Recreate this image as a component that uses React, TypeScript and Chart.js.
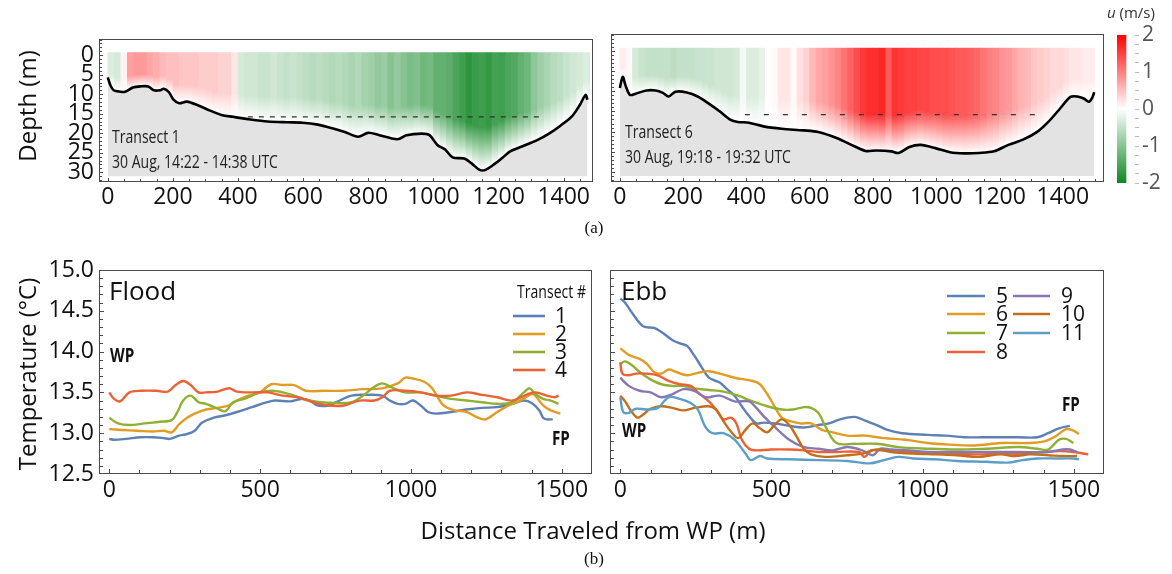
import React, { useEffect, useRef } from 'react';
import { Chart, registerables } from 'chart.js';
Chart.register(...registerables);

const FONT = '"Open Sans", "Noto Sans", sans-serif';

// ---------- (a) velocity sections ----------
const t1BedX = [0, 8, 18, 35, 53, 77, 100, 124, 142, 160, 172, 188, 201, 219, 243, 278, 314, 349, 385, 432, 491, 550, 598, 645, 692, 728, 769, 799, 834, 870, 893, 917, 964, 988, 1012, 1036, 1059, 1095, 1118, 1142, 1160, 1189, 1213, 1237, 1272, 1320, 1355, 1391, 1426, 1450, 1467, 1473];
const t1BedDepth = [5.7, 7.7, 9.0, 9.3, 9.4, 8.3, 8.0, 8.0, 9.0, 9.0, 8.6, 9.5, 11.3, 12.3, 11.9, 12.9, 14.2, 15.3, 15.8, 16.4, 17.0, 17.2, 17.3, 17.8, 18.8, 19.7, 20.9, 19.9, 20.5, 21.3, 21.5, 20.5, 20.1, 20.5, 23.0, 24.2, 26.2, 26.5, 27.8, 29.4, 29.4, 27.8, 26.2, 24.6, 23.4, 21.7, 20.1, 18.0, 15.6, 12.7, 10.2, 11.4];
const t1ColX = [10, 30, 50, 70, 90, 110, 130, 150, 170, 190, 210, 230, 250, 270, 290, 310, 330, 350, 370, 390, 410, 430, 450, 470, 490, 510, 530, 550, 570, 590, 610, 630, 650, 670, 690, 710, 730, 750, 770, 790, 810, 830, 850, 870, 890, 910, 930, 950, 970, 990, 1010, 1030, 1050, 1070, 1090, 1110, 1130, 1150, 1170, 1190, 1210, 1230, 1250, 1270, 1290, 1310, 1330, 1350, 1370, 1390, 1410, 1430, 1450, 1470];
const t1ColU = [-0.3, -0.35, 0.1, 0.75, 0.8, 0.8, 0.7, 0.65, 0.55, 0.5,
  0.5, 0.45, 0.45, 0.45, 0.4, 0.4, 0.4, 0.35, 0.35, 0.2,
  -0.35, -0.4, -0.4, -0.45, -0.45, -0.4, -0.45, -0.5, -0.45, -0.5,
  -0.55, -0.6, -0.55, -0.6, -0.65, -0.6, -0.65, -0.7, -0.65, -0.75,
  -0.8, -0.9, -0.85, -1.0, -0.9, -1.0, -1.1, -1.05, -1.2, -1.15,
  -1.3, -1.3, -1.35, -1.5, -1.6, -1.75, -1.65, -1.6, -1.7, -1.55,
  -1.6, -1.5, -1.45, -1.3, -1.2, -0.95, -0.8, -0.7, -0.6, -0.55,
  -0.45, -0.4, -0.35, -0.3];

const t6BedX = [0, 9, 18, 32, 50, 84, 113, 136, 154, 176, 212, 246, 280, 316, 350, 373, 408, 454, 512, 581, 627, 685, 743, 777, 810, 858, 881, 915, 951, 997, 1043, 1089, 1135, 1182, 1228, 1274, 1320, 1354, 1390, 1424, 1446, 1466, 1482, 1494, 1499];
const t6BedDepth = [9.2, 6.4, 8.6, 10.9, 10.6, 9.8, 9.8, 10.4, 11.3, 10.1, 10.3, 11.3, 13.0, 15.0, 17.1, 17.6, 17.8, 18.7, 19.3, 19.7, 20.1, 21.6, 23.7, 24.8, 24.7, 24.9, 25.3, 23.8, 23.3, 24.1, 25.1, 25.4, 25.3, 24.9, 23.3, 22.0, 20.0, 17.6, 14.4, 11.4, 11.3, 11.8, 12.6, 11.4, 10.2];
const t6ColX = [10, 30, 50, 70, 90, 110, 130, 150, 170, 190, 210, 230, 250, 270, 290, 310, 330, 350, 370, 390, 410, 430, 450, 470, 490, 510, 530, 550, 570, 590, 610, 630, 650, 670, 690, 710, 730, 750, 770, 790, 810, 830, 850, 870, 890, 910, 930, 950, 970, 990, 1010, 1030, 1050, 1070, 1090, 1110, 1130, 1150, 1170, 1190, 1210, 1230, 1250, 1270, 1290, 1310, 1330, 1350, 1370, 1390, 1410, 1430, 1450, 1470, 1490];
const t6ColU = [0.15, 0.05, -0.35, -0.45, -0.5, -0.5, -0.5, -0.5, -0.55, -0.5,
  -0.5, -0.5, -0.45, -0.45, -0.45, -0.4, -0.4, -0.4, -0.35, -0.1,
  -0.3, -0.3, -0.2, 0.0, 0.05, 0.2, 0.2, 0.05, 0.25, 0.35,
  0.55, 0.7, 0.75, 0.85, 0.95, 1.1, 1.25, 1.4, 1.55, 1.65,
  1.65, 1.7, 1.3, 1.6, 1.55, 1.5, 1.5, 1.45, 1.45, 1.4,
  1.4, 1.4, 1.35, 1.3, 1.3, 1.25, 1.2, 1.1, 1.0, 0.95,
  0.85, 0.8, 0.7, 0.6, 0.55, 0.45, 0.4, 0.35, 0.3, 0.3,
  0.25, 0.2, 0.2, 0.15, 0.15];

const depthTicks = [0, 5, 10, 15, 20, 25, 30];
const sectionXTicks = [0, 200, 400, 600, 800, 1000, 1200, 1400];
const colorbarTicks = [-2, -1, 0, 1, 2];

// ---------- (b) temperature ----------
const floodLabels = ['1', '2', '3', '4'];
const ebbLabels = ['5', '6', '7', '8', '9', '10', '11'];

const f1X = [0, 16, 55, 105, 143, 181, 200, 232, 258, 283, 308, 346, 385, 423, 473, 524, 550, 600, 638, 665, 689, 727, 752, 803, 855, 905, 930, 956, 981, 1006, 1032, 1057, 1082, 1133, 1184, 1235, 1286, 1336, 1374, 1400, 1425, 1438, 1450, 1470];
const f1T = [12.93, 12.92, 12.93, 12.95, 12.95, 12.94, 12.93, 12.97, 12.99, 13.03, 13.13, 13.19, 13.22, 13.26, 13.32, 13.38, 13.40, 13.39, 13.42, 13.40, 13.34, 13.34, 13.38, 13.46, 13.47, 13.46, 13.40, 13.36, 13.36, 13.40, 13.34, 13.26, 13.24, 13.26, 13.29, 13.31, 13.32, 13.36, 13.40, 13.37, 13.28, 13.19, 13.17, 13.17];
const f2X = [0, 42, 93, 143, 181, 207, 232, 258, 283, 321, 359, 397, 423, 461, 499, 537, 575, 613, 651, 714, 778, 841, 905, 956, 981, 1006, 1044, 1070, 1108, 1146, 1184, 1222, 1247, 1286, 1324, 1362, 1400, 1412, 1438, 1463, 1495];
const f2T = [13.05, 13.04, 13.03, 13.02, 13.03, 13.01, 13.11, 13.19, 13.24, 13.29, 13.31, 13.34, 13.40, 13.46, 13.50, 13.60, 13.59, 13.59, 13.52, 13.52, 13.52, 13.54, 13.55, 13.61, 13.68, 13.67, 13.63, 13.55, 13.34, 13.28, 13.26, 13.19, 13.17, 13.26, 13.34, 13.40, 13.48, 13.46, 13.34, 13.28, 13.24];
const f3X = [0, 29, 67, 118, 169, 207, 226, 245, 270, 296, 321, 359, 385, 410, 448, 499, 537, 575, 613, 651, 702, 752, 803, 841, 879, 905, 943, 981, 1032, 1082, 1133, 1184, 1235, 1286, 1336, 1374, 1393, 1412, 1438, 1463, 1489];
const f3T = [13.19, 13.12, 13.10, 13.12, 13.14, 13.16, 13.26, 13.40, 13.46, 13.38, 13.36, 13.30, 13.27, 13.38, 13.42, 13.50, 13.52, 13.50, 13.46, 13.41, 13.38, 13.37, 13.38, 13.46, 13.57, 13.61, 13.55, 13.50, 13.50, 13.46, 13.42, 13.40, 13.38, 13.36, 13.38, 13.50, 13.55, 13.48, 13.42, 13.40, 13.36];
const f4X = [0, 16, 36, 67, 105, 156, 194, 220, 245, 270, 296, 321, 359, 397, 423, 473, 524, 575, 626, 676, 727, 778, 829, 879, 905, 930, 981, 1032, 1082, 1133, 1184, 1235, 1286, 1336, 1387, 1412, 1450, 1476, 1489];
const f4T = [13.50, 13.42, 13.39, 13.50, 13.52, 13.52, 13.51, 13.59, 13.64, 13.59, 13.50, 13.50, 13.51, 13.55, 13.51, 13.50, 13.50, 13.46, 13.44, 13.38, 13.34, 13.34, 13.40, 13.40, 13.44, 13.52, 13.52, 13.50, 13.46, 13.46, 13.50, 13.47, 13.44, 13.40, 13.48, 13.50, 13.46, 13.44, 13.46];

const e5X = [0, 16, 40, 76, 112, 136, 173, 197, 221, 245, 269, 293, 329, 353, 378, 402, 426, 450, 474, 510, 559, 607, 655, 691, 727, 776, 812, 848, 884, 932, 1017, 1077, 1138, 1198, 1258, 1318, 1379, 1415, 1451, 1487];
const e5T = [14.65, 14.60, 14.47, 14.31, 14.29, 14.24, 14.14, 14.10, 14.07, 13.95, 13.81, 13.68, 13.62, 13.54, 13.46, 13.33, 13.21, 13.12, 13.13, 13.12, 13.09, 13.07, 13.10, 13.12, 13.17, 13.20, 13.15, 13.10, 13.04, 13.00, 12.98, 12.97, 12.95, 12.95, 12.95, 12.95, 12.95, 13.00, 13.06, 13.09];
const e6X = [0, 28, 64, 88, 112, 136, 160, 185, 221, 257, 293, 329, 378, 438, 462, 486, 510, 534, 559, 595, 631, 667, 703, 751, 812, 872, 944, 1017, 1089, 1173, 1258, 1354, 1403, 1439, 1475, 1499, 1517];
const e6T = [14.04, 13.96, 13.91, 13.85, 13.75, 13.73, 13.78, 13.75, 13.71, 13.74, 13.76, 13.73, 13.68, 13.64, 13.60, 13.48, 13.33, 13.19, 13.15, 13.12, 13.12, 13.04, 13.01, 12.97, 12.97, 12.94, 12.92, 12.88, 12.86, 12.85, 12.88, 12.88, 12.90, 12.96, 13.05, 13.03, 12.99];
const e7X = [0, 16, 40, 64, 100, 136, 173, 209, 245, 293, 341, 390, 438, 486, 534, 571, 607, 631, 655, 679, 715, 776, 848, 920, 1017, 1113, 1210, 1318, 1379, 1415, 1451, 1475, 1499];
const e7T = [13.85, 13.88, 13.83, 13.75, 13.66, 13.60, 13.58, 13.58, 13.55, 13.53, 13.51, 13.46, 13.39, 13.33, 13.29, 13.29, 13.32, 13.31, 13.25, 13.08, 12.88, 12.87, 12.87, 12.83, 12.81, 12.80, 12.81, 12.83, 12.81, 12.80, 12.92, 12.93, 12.88];
const e8X = [0, 7, 28, 52, 88, 124, 160, 197, 233, 257, 293, 317, 341, 366, 384, 402, 426, 450, 498, 559, 607, 655, 715, 790, 808, 830, 848, 896, 969, 1041, 1113, 1186, 1258, 1330, 1403, 1451, 1499, 1548];
const e8T = [13.87, 13.73, 13.71, 13.73, 13.73, 13.71, 13.64, 13.60, 13.58, 13.50, 13.39, 13.29, 13.17, 13.19, 13.12, 12.92, 12.81, 12.79, 12.80, 12.80, 12.79, 12.77, 12.77, 12.77, 12.71, 12.79, 12.79, 12.79, 12.77, 12.76, 12.75, 12.74, 12.75, 12.75, 12.77, 12.78, 12.77, 12.74];
const e9X = [0, 28, 64, 100, 136, 173, 209, 245, 281, 329, 378, 426, 450, 474, 510, 559, 607, 655, 703, 751, 800, 836, 860, 896, 957, 1017, 1113, 1198, 1318, 1415, 1463, 1487, 1511];
const e9T = [13.68, 13.58, 13.52, 13.50, 13.44, 13.48, 13.54, 13.52, 13.44, 13.46, 13.39, 13.39, 13.31, 13.21, 13.08, 12.92, 12.83, 12.81, 12.79, 12.83, 12.79, 12.73, 12.81, 12.80, 12.79, 12.77, 12.77, 12.77, 12.77, 12.77, 12.80, 12.80, 12.77];
const e10X = [0, 16, 40, 58, 76, 100, 136, 173, 209, 245, 293, 317, 341, 366, 390, 414, 438, 462, 486, 510, 534, 559, 583, 607, 631, 679, 751, 800, 848, 896, 969, 1041, 1113, 1186, 1258, 1306, 1354, 1415, 1463, 1511];
const e10T = [13.46, 13.39, 13.25, 13.19, 13.23, 13.30, 13.33, 13.31, 13.28, 13.31, 13.33, 13.29, 13.15, 13.02, 12.94, 13.04, 13.12, 13.06, 13.01, 13.10, 13.17, 13.10, 12.96, 12.81, 12.74, 12.71, 12.73, 12.75, 12.80, 12.77, 12.75, 12.74, 12.73, 12.71, 12.74, 12.72, 12.74, 12.73, 12.72, 12.72];
const e11X = [0, 10, 28, 52, 88, 124, 160, 197, 233, 257, 281, 305, 341, 378, 414, 432, 462, 486, 559, 655, 751, 824, 872, 920, 969, 1041, 1113, 1210, 1282, 1330, 1379, 1439, 1499, 1517];
const e11T = [13.44, 13.26, 13.25, 13.30, 13.29, 13.31, 13.44, 13.42, 13.37, 13.29, 13.08, 13.00, 13.00, 12.92, 12.75, 12.67, 12.72, 12.69, 12.68, 12.67, 12.66, 12.63, 12.67, 12.71, 12.69, 12.68, 12.66, 12.65, 12.64, 12.67, 12.69, 12.69, 12.69, 12.68];

const C = ['#5E81B5', '#E19C24', '#8FB032', '#EB6235', '#8778B3', '#C56E1A', '#5D9EC7'];

// ---------- helpers ----------
function uColor(u: number) {
  const t = Math.min(Math.abs(u) / 2, 1);
  if (u >= 0) {
    const g = Math.round(255 * (1 - t));
    return `rgb(255,${g},${g})`;
  }
  return `rgb(${Math.round(255 - 240 * t)},${Math.round(255 - 120 * t)},${Math.round(255 - 220 * t)})`;
}
function bedAt(xs: number[], ds: number[], x: number) {
  if (x <= xs[0]) return ds[0];
  for (let i = 1; i < xs.length; i++) {
    if (x <= xs[i]) {
      const f = (x - xs[i - 1]) / (xs[i] - xs[i - 1]);
      return ds[i - 1] + f * (ds[i] - ds[i - 1]);
    }
  }
  return ds[ds.length - 1];
}

function framePlugin(cfg: { xMaj: number; xMin: number; yMaj: number; yMin: number }) {
  return {
    id: 'frameTicks',
    afterDraw(chart: any) {
      const { ctx, chartArea: a } = chart;
      const xs = chart.scales.x, ys = chart.scales.y;
      ctx.save();
      ctx.strokeStyle = '#4a4a4a';
      ctx.lineWidth = 1;
      ctx.beginPath();
      xs.ticks.forEach((t: any) => {
        const p = Math.round(xs.getPixelForValue(t.value)) + 0.5;
        if (p < a.left || p > a.right) return;
        const len = t.label !== '' ? cfg.xMaj : cfg.xMin;
        ctx.moveTo(p, a.bottom);
        ctx.lineTo(p, a.bottom - len);
      });
      ys.ticks.forEach((t: any) => {
        const p = Math.round(ys.getPixelForValue(t.value)) + 0.5;
        if (p < a.top || p > a.bottom) return;
        const len = t.label !== '' ? cfg.yMaj : cfg.yMin;
        ctx.moveTo(a.left, p);
        ctx.lineTo(a.left + len, p);
      });
      ctx.stroke();
      ctx.strokeRect(Math.round(a.left) + 0.5, Math.round(a.top) + 0.5, Math.round(a.right - a.left) - 1, Math.round(a.bottom - a.top) - 1);
      ctx.restore();
    },
  };
}

type Note = { text: string; dx: number; dy: number; font: string; align?: string; color?: string; sx?: number };
function notesPlugin(items: Note[]) {
  return {
    id: 'notes',
    afterDatasetsDraw(chart: any) {
      const { ctx, chartArea: a } = chart;
      items.forEach((it) => {
        ctx.save();
        ctx.textBaseline = 'middle';
        ctx.font = it.font;
        ctx.fillStyle = it.color || '#111';
        ctx.textAlign = (it.align || 'left') as CanvasTextAlign;
        ctx.translate(a.left + it.dx, a.top + it.dy);
        ctx.scale(it.sx || 1, 1);
        ctx.fillText(it.text, 0, 0);
        ctx.restore();
      });
    },
  };
}

type LegendEntry = { x0: number; x1: number; tx: number; y: number };
function legendPlugin(entries: LegendEntry[]) {
  return {
    id: 'customLegend',
    afterDatasetsDraw(chart: any) {
      const { ctx, chartArea: a } = chart;
      ctx.save();
      ctx.textBaseline = 'middle';
      ctx.textAlign = 'left';
      ctx.font = `21px ${FONT}`;
      chart.data.datasets.forEach((ds: any, i: number) => {
        const e = entries[i];
        if (!e) return;
        ctx.strokeStyle = ds.borderColor;
        ctx.lineWidth = 2.6;
        ctx.beginPath();
        ctx.moveTo(a.left + e.x0, a.top + e.y);
        ctx.lineTo(a.left + e.x1, a.top + e.y);
        ctx.stroke();
        ctx.fillStyle = '#111';
        ctx.fillText(ds.label, a.left + e.tx, a.top + e.y + 1);
      });
      ctx.restore();
    },
  };
}

const TICK_FONT = { family: FONT, size: 23 };

function sectionConfig(p: any) {
  const bed = p.bedX.map((x: number, i: number) => ({ x, y: p.bedD[i] }));
  const cols = p.colX.map((x: number, i: number) => ({ x, y: [-0.7, bedAt(p.bedX, p.bedD, x)], u: p.colU[i] }));
  return {
    type: 'bar',
    data: {
      datasets: [
        { type: 'line', data: bed, borderColor: '#000', borderWidth: 2.6, pointRadius: 0, tension: 0.3, fill: { value: 31 }, backgroundColor: '#e3e3e3', order: 0 },
        { type: 'line', data: [{ x: p.dashX[0], y: p.dashDepth }, { x: p.dashX[1], y: p.dashDepth }], borderColor: '#333', borderWidth: 1.2, borderDash: p.dash, pointRadius: 0, fill: false, order: 1 },
        {
          type: 'bar', data: cols, order: 2, barPercentage: 1, categoryPercentage: 1, borderWidth: 0,
          backgroundColor: (ctx: any) => {
            const raw = ctx.raw;
            if (!raw || raw.u === undefined) return '#fff';
            const c = uColor(raw.u);
            const ys = ctx.chart.scales.y;
            if (!ys) return c;
            const top = ys.getPixelForValue(raw.y[0]);
            const bot = ys.getPixelForValue(raw.y[1]);
            if (!isFinite(top) || !isFinite(bot) || bot <= top) return c;
            const g = ctx.chart.ctx.createLinearGradient(0, top, 0, bot);
            g.addColorStop(0, c);
            g.addColorStop(0.64, c);
            g.addColorStop(1, 'rgb(255,255,255)');
            return g;
          },
        },
      ],
    },
    options: {
      animation: false, responsive: false, devicePixelRatio: 1,
      layout: { padding: { top: 14, right: p.padRight, left: 0, bottom: 0 } },
      plugins: { legend: { display: false }, tooltip: { enabled: false } },
      scales: {
        x: {
          type: 'linear', min: p.xMin, max: p.xMax, offset: false,
          grid: { display: false, drawTicks: false }, border: { display: false },
          ticks: { stepSize: 50, includeBounds: false, autoSkip: false, maxRotation: 0, minRotation: 0, padding: 2, color: '#111', font: TICK_FONT,
            callback: (v: number) => (sectionXTicks.includes(Math.round(v)) ? String(Math.round(v)) : '') },
          afterFit: (s: any) => { s.height = 38; },
        },
        y: {
          type: 'linear', reverse: true, min: -4.2, max: 32.5,
          grid: { display: false, drawTicks: false }, border: { display: false },
          ticks: { display: p.showY, stepSize: 1, includeBounds: false, autoSkip: false, padding: 5, color: '#111', font: TICK_FONT,
            callback: (v: number) => (depthTicks.includes(Math.round(v)) && Math.abs(v - Math.round(v)) < 1e-6 ? String(Math.round(v)) : '') },
          afterFit: (s: any) => { s.width = p.yWidth; },
        },
      },
    },
    plugins: [framePlugin({ xMaj: 4, xMin: 3, yMaj: 4, yMin: 3 }), notesPlugin(p.notes)],
  };
}

function tempConfig(p: any) {
  const datasets = p.series.map((s: any, i: number) => ({
    label: s.label,
    data: s.x.map((x: number, j: number) => ({ x, y: s.t[j] })),
    borderColor: s.color, borderWidth: 2.4, pointRadius: 0, tension: 0.35, fill: false,
    order: 20 - i,
  }));
  return {
    type: 'line',
    data: { datasets },
    options: {
      animation: false, responsive: false, devicePixelRatio: 1,
      layout: { padding: { top: 30, right: p.padRight, left: 0, bottom: 0 } },
      plugins: { legend: { display: false }, tooltip: { enabled: false } },
      scales: {
        x: {
          type: 'linear', min: -34, max: 1600,
          grid: { display: false, drawTicks: false }, border: { display: false },
          ticks: { stepSize: 100, includeBounds: false, autoSkip: false, maxRotation: 0, minRotation: 0, padding: 3, color: '#111', font: TICK_FONT,
            callback: (v: number) => (Math.round(v) % 500 === 0 ? String(Math.round(v)) : '') },
          afterFit: (s: any) => { s.height = 46; },
        },
        y: {
          type: 'linear', min: 12.5, max: 15.0,
          grid: { display: false, drawTicks: false }, border: { display: false },
          ticks: { display: p.showY, stepSize: 0.1, includeBounds: false, autoSkip: false, padding: 5, color: '#111', font: TICK_FONT,
            callback: (v: number) => (Math.round(v * 10) % 5 === 0 ? v.toFixed(1) : '') },
          afterFit: (s: any) => { s.width = p.yWidth; },
        },
      },
    },
    plugins: [framePlugin({ xMaj: 5, xMin: 4, yMaj: 5, yMin: 4 }), notesPlugin(p.notes), legendPlugin(p.legend)],
  };
}

function colorbarConfig() {
  return {
    type: 'bar',
    data: {
      labels: ['u'],
      datasets: [{
        data: [[-2, 2]], barPercentage: 1, categoryPercentage: 1, borderWidth: 0,
        backgroundColor: (ctx: any) => {
          const a = ctx.chart.chartArea;
          if (!a) return '#fff';
          const g = ctx.chart.ctx.createLinearGradient(0, a.bottom, 0, a.top);
          g.addColorStop(0, uColor(-2));
          g.addColorStop(0.5, '#ffffff');
          g.addColorStop(1, uColor(2));
          return g;
        },
      }],
    },
    options: {
      animation: false, responsive: false, devicePixelRatio: 1,
      layout: { padding: { top: 35, bottom: 17, left: 12, right: 0 } },
      plugins: { legend: { display: false }, tooltip: { enabled: false } },
      scales: {
        x: { display: false, offset: false },
        y: {
          position: 'right', min: -2, max: 2,
          grid: { drawOnChartArea: false, drawTicks: true, tickLength: 4, color: '#bbb' }, border: { display: false },
          ticks: { stepSize: 0.25, autoSkip: false, padding: 3, color: '#555', font: { family: FONT, size: 21 },
            callback: (v: number) => (colorbarTicks.includes(v) ? String(v) : '') },
          afterFit: (s: any) => { s.width = 37; },
        },
      },
    },
    plugins: [{
      id: 'cbTitle',
      afterDraw(chart: any) {
        const { ctx } = chart;
        ctx.save();
        ctx.fillStyle = '#333';
        ctx.textBaseline = 'middle';
        ctx.textAlign = 'left';
        ctx.font = `italic 15px ${FONT}`;
        ctx.fillText('u', 2, 14);
        const w = ctx.measureText('u').width;
        ctx.font = `15px ${FONT}`;
        ctx.fillText(' (m/s)', 2 + w, 14);
        ctx.restore();
      },
    }],
  };
}

function ChartBox({ make, left, top, width, height }: any) {
  const ref = useRef<HTMLCanvasElement>(null);
  useEffect(() => {
    const chart = new Chart(ref.current as HTMLCanvasElement, make());
    return () => chart.destroy();
  }, []);
  return <canvas ref={ref} width={width} height={height} style={{ position: 'absolute', left, top, width, height }} />;
}

const NOTE_FONT = `18px ${FONT}`;
const NOTE_SX = 0.78;
const WPFP_FONT = `bold 19px ${FONT}`;
const WPFP_SX = 0.8;

export default function App() {
  const txt = (text: string, x: number, y: number, extra: any = {}) => (
    <div style={{ position: 'absolute', left: x, top: y, transform: `translate(-50%,-50%)${extra.rot ? ' rotate(-90deg)' : ''}`, whiteSpace: 'nowrap', fontFamily: extra.serif ? '"Liberation Serif", "DejaVu Serif", serif' : FONT, fontSize: extra.size || 24, color: '#111', lineHeight: 1 }}>{text}</div>
  );
  return (
    <div style={{ position: 'fixed', left: 0, top: 0, width: 1172, height: 574, background: '#fff', overflow: 'hidden' }}>
      <ChartBox left={0} top={20} width={600} height={200} make={() => sectionConfig({
        bedX: t1BedX, bedD: t1BedDepth, colX: t1ColX, colU: t1ColU, dashX: [430, 1340], dashDepth: 15.8, dash: [5, 6],
        xMin: -27, xMax: 1490, padRight: 7, yWidth: 99, showY: true,
        notes: [
          { text: 'Transect 1', dx: 13, dy: 99, font: NOTE_FONT, color: '#222', sx: NOTE_SX },
          { text: '30 Aug, 14:22 - 14:38 UTC', dx: 13, dy: 124, font: NOTE_FONT, color: '#222', sx: NOTE_SX },
        ],
      })} />
      <ChartBox left={600} top={20} width={510} height={200} make={() => sectionConfig({
        bedX: t6BedX, bedD: t6BedDepth, colX: t6ColX, colU: t6ColU, dashX: [395, 1320], dashDepth: 15.8, dash: [5, 14],
        xMin: -28, xMax: 1530, padRight: 6, yWidth: 11, showY: false,
        notes: [
          { text: 'Transect 6', dx: 14, dy: 99, font: NOTE_FONT, color: '#222', sx: NOTE_SX },
          { text: '30 Aug, 19:18 - 19:32 UTC', dx: 14, dy: 124, font: NOTE_FONT, color: '#222', sx: NOTE_SX },
        ],
      })} />
      <ChartBox left={1105} top={0} width={67} height={200} make={colorbarConfig} />
      <ChartBox left={0} top={240} width={600} height={280} make={() => tempConfig({
        padRight: 8, yWidth: 99, showY: true,
        series: [
          { label: floodLabels[0], x: f1X, t: f1T, color: C[0] },
          { label: floodLabels[1], x: f2X, t: f2T, color: C[1] },
          { label: floodLabels[2], x: f3X, t: f3T, color: C[2] },
          { label: floodLabels[3], x: f4X, t: f4T, color: C[3] },
        ],
        notes: [
          { text: 'Flood', dx: 10, dy: 23, font: `26px ${FONT}` },
          { text: 'Transect #', dx: 487, dy: 23, font: NOTE_FONT, align: 'right', sx: NOTE_SX },
          { text: 'WP', dx: 11, dy: 87, font: WPFP_FONT, sx: WPFP_SX },
          { text: 'FP', dx: 453, dy: 170, font: WPFP_FONT, sx: WPFP_SX },
        ],
        legend: [
          { x0: 414, x1: 446, tx: 456, y: 46 },
          { x0: 414, x1: 446, tx: 456, y: 64 },
          { x0: 414, x1: 446, tx: 456, y: 82 },
          { x0: 414, x1: 446, tx: 456, y: 100 },
        ],
      })} />
      <ChartBox left={600} top={240} width={510} height={280} make={() => tempConfig({
        padRight: 6, yWidth: 10, showY: false,
        series: [
          { label: ebbLabels[0], x: e5X, t: e5T, color: C[0] },
          { label: ebbLabels[1], x: e6X, t: e6T, color: C[1] },
          { label: ebbLabels[2], x: e7X, t: e7T, color: C[2] },
          { label: ebbLabels[3], x: e8X, t: e8T, color: C[3] },
          { label: ebbLabels[4], x: e9X, t: e9T, color: C[4] },
          { label: ebbLabels[5], x: e10X, t: e10T, color: C[5] },
          { label: ebbLabels[6], x: e11X, t: e11T, color: C[6] },
        ],
        notes: [
          { text: 'Ebb', dx: 11, dy: 23, font: `26px ${FONT}` },
          { text: 'WP', dx: 12, dy: 162, font: WPFP_FONT, sx: WPFP_SX },
          { text: 'FP', dx: 452, dy: 136, font: WPFP_FONT, sx: WPFP_SX },
        ],
        legend: [
          { x0: 337, x1: 375, tx: 386, y: 26 },
          { x0: 337, x1: 375, tx: 386, y: 44 },
          { x0: 337, x1: 375, tx: 386, y: 63 },
          { x0: 337, x1: 375, tx: 386, y: 82 },
          { x0: 403, x1: 440, tx: 451, y: 26 },
          { x0: 403, x1: 440, tx: 451, y: 44 },
          { x0: 403, x1: 440, tx: 451, y: 63 },
        ],
      })} />
      {txt('Depth (m)', 27, 106, { rot: true })}
      {txt('Temperature (°C)', 27, 374, { rot: true })}
      {txt('Distance Traveled from WP (m)', 593, 530)}
      {txt('(a)', 594, 227, { serif: true, size: 17 })}
      {txt('(b)', 594, 558, { serif: true, size: 17 })}
    </div>
  );
}
